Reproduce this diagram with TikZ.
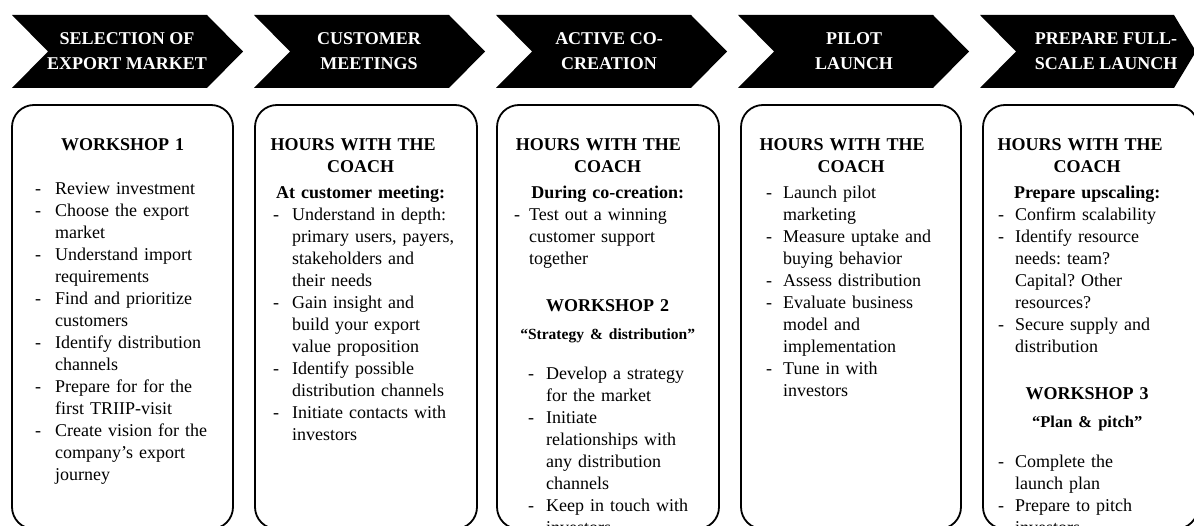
\documentclass[tikz,border=0pt]{standalone}
\usepackage{fontspec}
\setmainfont{Liberation Serif}
\usetikzlibrary{calc}
\setlength{\parindent}{0pt}
\frenchspacing

% dash item: dash at #1, text (and following lines) at #2
\newcommand{\dashitem}[3]{\par\noindent\hangindent=#2\hangafter=1\hspace*{#1}\makebox[\dimexpr #2-#1\relax][l]{-}#3\par}
% bold heading, centred in the box
\newcommand{\boxhead}[1]{{\centering\bfseries\strut #1\par}}

\begin{document}
\begin{tikzpicture}[x=1pt,y=-1pt,
    chevtext/.style={text=white, font=\bfseries\fontsize{18}{25}\selectfont, align=center, inner sep=0pt},
    boxtext/.style={anchor=north west, inner sep=0pt, text width=221pt, align=left, font=\fontsize{18}{22}\selectfont},
    panel/.style={line width=1.8pt, rounded corners=22pt}]
        % Fix the page size
        \clip (0,0) rectangle (1194,526);

        % Draw the chevrons of the five steps
        \fill (12,15) -- (207,15) -- (243,51.5) -- (207,88) -- (12,88) -- (48,51.5) -- cycle;
        \fill (254,15) -- (449,15) -- (485,51.5) -- (449,88) -- (254,88) -- (290,51.5) -- cycle;
        \fill (496,15) -- (691,15) -- (727,51.5) -- (691,88) -- (496,88) -- (532,51.5) -- cycle;
        \fill (738,15) -- (933,15) -- (969,51.5) -- (933,88) -- (738,88) -- (774,51.5) -- cycle;
        \fill (980,15) -- (1174,15) -- (1196,51.5) -- (1174,88) -- (980,88) -- (1016,51.5) -- cycle;

        % Label the steps
        \node[chevtext] (sel) at (127,51.5) {SELECTION OF\\EXPORT MARKET};
        \node[chevtext] (cust) at (369,51.5) {CUSTOMER\\MEETINGS};
        \node[chevtext] (cocr) at (609,51.5) {ACTIVE CO-\\CREATION};
        \node[chevtext] (pilot) at (854,51.5) {PILOT\\LAUNCH};
        \node[chevtext] (prep) at (1106,51.5) {PREPARE FULL-\\SCALE LAUNCH};

        % Draw the panels below the steps
        \draw[panel] (12,105) rectangle (233,529);
        \draw[panel] (255,105) rectangle (477,529);
        \draw[panel] (497,105) rectangle (719,529);
        \draw[panel] (741,105) rectangle (961,529);
        \draw[panel] (983,105) rectangle (1198,529);

        % Panel texts
        \node[boxtext] (ws1) at (12,134.6) {
            \boxhead{WORKSHOP 1}
            \vspace{22pt}
            \dashitem{23pt}{43pt}{Review investment}
            \dashitem{23pt}{43pt}{Choose the export\newline market}
            \dashitem{23pt}{43pt}{Understand import\newline requirements}
            \dashitem{23pt}{43pt}{Find and prioritize\newline customers}
            \dashitem{23pt}{43pt}{Identify distribution\newline channels}
            \dashitem{23pt}{43pt}{Prepare for for the\newline first TRIIP-visit}
            \dashitem{23pt}{43pt}{Create vision for the\newline company's export\newline journey}
        };
        \node[boxtext, text width=211pt] (coach2) at (255,134.6) {
            \boxhead{HOURS WITH THE\newline COACH}
            \vspace{4pt}
            {\centering\bfseries At customer meeting:\par}
            \dashitem{18pt}{37pt}{Understand in depth:\newline primary users, payers,\newline stakeholders and\newline their needs}
            \dashitem{18pt}{37pt}{Gain insight and\newline build your export\newline value proposition}
            \dashitem{18pt}{37pt}{Identify possible\newline distribution channels}
            \dashitem{18pt}{37pt}{Initiate contacts with\newline investors}
        };
        \node[boxtext] (coach3) at (497,134.6) {
            \boxhead{HOURS WITH THE\newline COACH}
            \vspace{4pt}
            {\centering\bfseries During co-creation:\par}
            \dashitem{17pt}{32pt}{Test out a winning\newline customer support\newline together}
            \vspace{25pt}
            \boxhead{WORKSHOP 2}
            \vspace{6pt}
            {\centering\bfseries\fontsize{15.5}{22}\selectfont “Strategy \& distribution”\par}
            \vspace{18pt}
            \dashitem{31pt}{49pt}{Develop a strategy\newline for the market}
            \dashitem{31pt}{49pt}{Initiate\newline relationships with\newline any distribution\newline channels}
            \dashitem{31pt}{49pt}{Keep in touch with\newline investors}
        };
        \node[boxtext, text width=220pt] (coach4) at (741,134.6) {
            \boxhead{HOURS WITH THE\newline COACH}
            \vspace{4pt}
            \dashitem{25pt}{42pt}{Launch pilot\newline marketing}
            \dashitem{25pt}{42pt}{Measure uptake and\newline buying behavior}
            \dashitem{25pt}{42pt}{Assess distribution}
            \dashitem{25pt}{42pt}{Evaluate business\newline model and\newline implementation}
            \dashitem{25pt}{42pt}{Tune in with\newline investors}
        };
        \node[boxtext, text width=208pt] (coach5) at (983,134.6) {
            \boxhead{HOURS WITH THE\newline COACH}
            \vspace{4pt}
            {\centering\bfseries Prepare upscaling:\par}
            \dashitem{15pt}{32pt}{Confirm scalability}
            \dashitem{15pt}{32pt}{Identify resource\newline needs: team?\newline Capital? Other\newline resources?}
            \dashitem{15pt}{32pt}{Secure supply and\newline distribution}
            \vspace{25pt}
            \boxhead{WORKSHOP 3}
            \vspace{6pt}
            {\centering\bfseries\fontsize{16.5}{22}\selectfont “Plan \& pitch”\par}
            \vspace{18pt}
            \dashitem{15pt}{32pt}{Complete the\newline launch plan}
            \dashitem{15pt}{32pt}{Prepare to pitch\newline investors}
        };
    \end{tikzpicture}
\end{document}
